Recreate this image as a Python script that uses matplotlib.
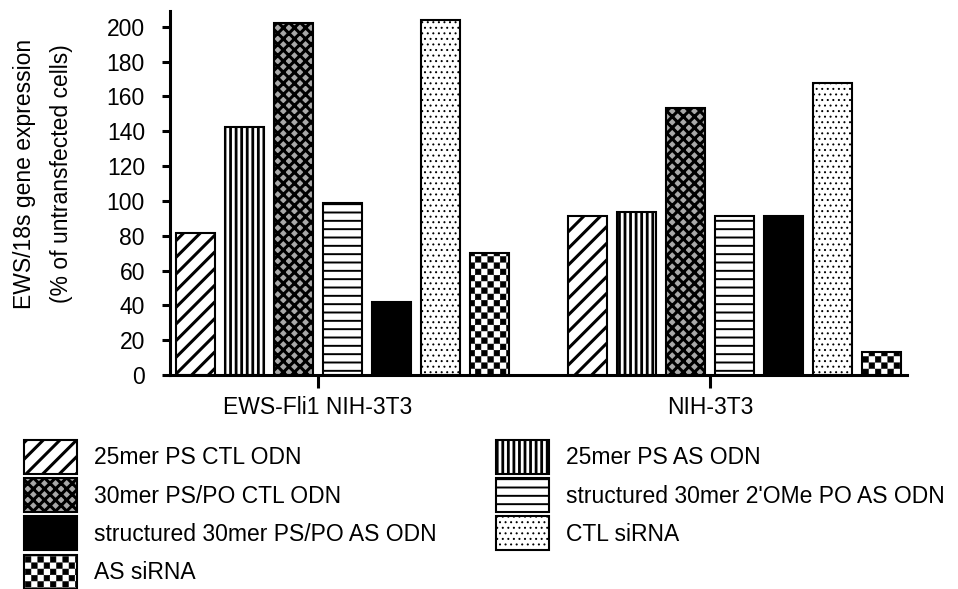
import warnings
import numpy as np
import matplotlib
matplotlib.use('Agg')
import matplotlib.pyplot as plt
from matplotlib import hatch as mhatch
from matplotlib.path import Path

warnings.filterwarnings('ignore')

groups = ['EWS-Fli1 NIH-3T3', 'NIH-3T3']
treatments = ['25mer PS CTL ODN', '25mer PS AS ODN', '30mer PS/PO CTL ODN',
              "structured 30mer 2'OMe PO AS ODN", 'structured 30mer PS/PO AS ODN',
              'CTL siRNA', 'AS siRNA']
ews_fli1 = [81.3, 142.4, 202.2, 98.9, 42.1, 204.1, 69.9]
nih3t3 = [91.3, 93.4, 153.1, 91.3, 91.5, 167.6, 13.2]
yticks = list(range(0, 201, 20))


class CheckerHatch(mhatch.HatchPatternBase):
    '''filled checkerboard squares, selected with the letter c'''
    def __init__(self, hatch, density):
        self.cells = hatch.count('c') * 16
        self.num_vertices = (self.cells * self.cells // 2) * 5

    def set_vertices_and_codes(self, vertices, codes):
        step = 1.0 / self.cells
        s = 0.003
        k = 0
        for i in range(self.cells):
            for j in range(self.cells):
                if (i + j) % 2:
                    continue
                x0, y0 = i * step + s, j * step + s
                x1, y1 = (i + 1) * step - s, (j + 1) * step - s
                vertices[k:k + 5] = [[x0, y0], [x1, y0], [x1, y1], [x0, y1], [x0, y0]]
                codes[k:k + 5] = [Path.MOVETO, Path.LINETO, Path.LINETO,
                                  Path.LINETO, Path.CLOSEPOLY]
                k += 5


mhatch._hatch_types.append(CheckerHatch)

plt.rcParams['font.family'] = ['Liberation Sans', 'DejaVu Sans']
plt.rcParams['hatch.linewidth'] = 2.0

hatches = ['//', '|||', 'xxx', '--', None, '...', 'c']
faces = ['white', 'white', '#a8a8a8', 'white', 'black', 'white', 'white']
hatch_lw = [2.2, 2.0, 2.2, 1.4, 1.0, 0.7, 0.4]

fig = plt.figure(figsize=(9.58, 5.89), dpi=100)
ax = fig.add_axes([170 / 958, 1 - 375 / 589, 737 / 958, 364 / 589])

data = np.array([ews_fli1, nih3t3])
handles = []
for i, name in enumerate(treatments):
    xs = np.arange(len(groups)) * 8 + i
    b = ax.bar(xs, data[:, i], width=0.8, facecolor=faces[i], edgecolor='black',
               linewidth=1.5, hatch=hatches[i], label=name)
    for p in b:
        if hasattr(p, 'set_hatch_linewidth'):
            p.set_hatch_linewidth(hatch_lw[i])
    handles.append(b)

ax.set_xlim(-0.52, 14.52)
ax.set_ylim(0, 209)
ax.set_yticks(yticks)
ax.set_xticks(np.arange(len(groups)) * 8 + 2.5)
ax.set_xticklabels(groups)
for side in ['top', 'right']:
    ax.spines[side].set_visible(False)
for side in ['left', 'bottom']:
    ax.spines[side].set_linewidth(2.2)
ax.tick_params(axis='y', direction='out', length=6, width=2.2, pad=12, labelsize=16.5, colors='black')
ax.tick_params(axis='x', direction='out', length=9, width=2.2, pad=6, labelsize=16.5)

fig.text(43 / 958, 1 - 174 / 589, 'EWS/18s gene expression\n(% of untransfected cells)',
         rotation=90, ha='center', va='center', fontsize=16.5, linespacing=1.75)

order = [0, 2, 4, 6, 1, 3, 5]
leg = fig.legend([handles[k] for k in order], [treatments[k] for k in order],
                 loc='upper left', bbox_to_anchor=(24 / 958, 1 - 440 / 589), ncol=2,
                 frameon=False, fontsize=16.5, borderpad=0, borderaxespad=0,
                 handlelength=2.31, handleheight=1.91, handletextpad=0.75,
                 labelspacing=0.18, columnspacing=2.6)
for lh, k in zip(leg.legend_handles, order):
    if hasattr(lh, 'set_hatch_linewidth'):
        lh.set_hatch_linewidth(hatch_lw[k])

fig.savefig('out.png', dpi=100)
